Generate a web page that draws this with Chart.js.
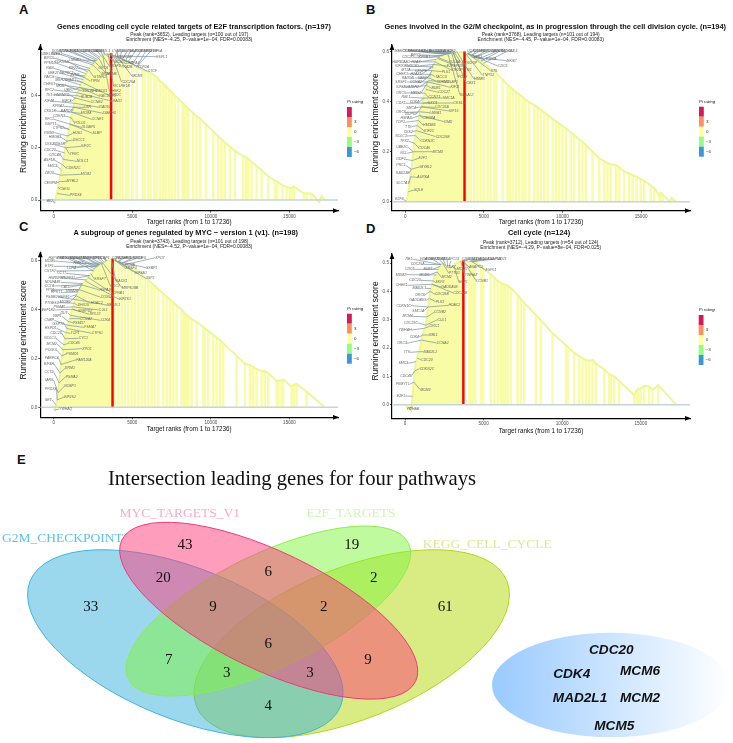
<!DOCTYPE html>
<html><head><meta charset="utf-8">
<script src="https://cdn.jsdelivr.net/npm/chart.js@4"></script>
<style>
html,body{margin:0;padding:0;background:#fff;width:733px;height:743px;overflow:hidden}
canvas{position:absolute;display:block}
.tag{position:absolute;font:bold 13px/13px "Liberation Sans",Arial,sans-serif;color:#111}
</style></head><body>
<div class="tag" style="left:19px;top:3px">A</div>
<div class="tag" style="left:366px;top:3px">B</div>
<div class="tag" style="left:19px;top:220px">C</div>
<div class="tag" style="left:366px;top:222px">D</div>
<div class="tag" style="left:17px;top:453px">E</div>
<canvas id="a" style="left:0;top:0"></canvas>
<canvas id="b" style="left:366px;top:0"></canvas>
<canvas id="c" style="left:0;top:225px"></canvas>
<canvas id="d" style="left:366px;top:225px"></canvas>
<canvas id="e" style="left:0;top:450px"></canvas>
<script>
/* ---------- values ---------- */
const xTicks=[0,5000,10000,15000];
const yTicksABC=[0,0.2,0.4,0.6];
const yTicksD=[0,0.1,0.2,0.3,0.4,0.5];
const legendTicks=["","3","0","−3","−6"];
const legendColours=["#D6195F","#FF8F5C","#FFFF9E","#93FF82","#3B97DA"];

const ranksA=[60,130,210,290,350,430,490,560,620,700,
760,840,900,980,1040,1110,1180,1250,1310,1390,
1450,1520,1590,1660,1720,1800,1870,1950,2010,2090,
2160,2240,2310,2400,2470,2560,2630,2720,2790,2880,
2950,3040,3120,3210,3290,3380,3460,3560,3652,
3900,4047,4217,4386,4598,4747,5001,5276,5658,5806,
6018,6166,6399,6548,6760,6971,7120,7332,7501,7713,
7925,8200,8306,8455,8561,8879,9090,9302,9684,10150,
10468,10680,10892,11209,11527,12057,12227,12375,12587,12905,
13223,13646,14070,14219,14558,14812,15024,15193,15278,15914,
16084,16401,16888,17036,17236];
const scoresA=[-.012,.005,.025,.05,.07,.095,.115,.135,.155,.18,
.2,.225,.245,.27,.29,.315,.335,.355,.37,.39,
.4,.41,.42,.43,.44,.45,.46,.468,.475,.482,
.49,.497,.503,.51,.517,.522,.528,.533,.537,.541,
.545,.549,.552,.555,.557,.558,.559,.56,.56,
.55,.548,.543,.54,.535,.53,.52,.508,.497,.494,
.49,.486,.478,.47,.455,.445,.437,.423,.413,.40,
.388,.372,.365,.356,.35,.332,.32,.312,.29,.262,
.245,.232,.22,.205,.188,.168,.165,.158,.146,.13,
.115,.09,.074,.07,.056,.05,.045,.048,.052,.025,
.026,.025,-.008,.015,0];

const ranksB=[50,120,190,260,330,390,450,510,570,640,
700,770,840,900,970,1040,1100,1170,1240,1300,
1370,1430,1500,1570,1640,1700,1770,1830,1900,1970,
2040,2110,2200,2280,2370,2450,2540,2620,2710,2790,
2880,2960,3050,3130,3220,3300,3390,3470,3560,3650,
3768,3963,4174,4386,4598,4810,4980,5234,5446,5658,
5806,6187,6505,6654,6823,7035,7247,7459,7628,7882,
8200,8412,8624,8836,9048,9366,9578,9790,10001,10213,
10531,10743,11061,11273,11485,11909,12332,12650,12862,13074,
13392,13604,13922,14240,14452,14706,14981,15193,15617,15829,
16147,16253,16359,16825,16952,17206];
const scoresB=[.002,.015,.04,.07,.10,.13,.165,.20,.235,.265,
.285,.305,.325,.345,.36,.38,.395,.415,.435,.45,
.465,.48,.485,.495,.51,.525,.54,.55,.56,.57,
.574,.577,.58,.582,.585,.587,.589,.59,.592,.593,
.594,.595,.596,.597,.597,.598,.598,.599,.599,.6,
.6,.593,.585,.578,.57,.563,.555,.543,.532,.525,
.515,.49,.467,.46,.452,.44,.43,.42,.41,.398,
.388,.378,.368,.358,.348,.333,.323,.313,.304,.294,
.278,.267,.25,.24,.227,.2,.174,.163,.155,.15,
.147,.139,.12,.113,.107,.1,.09,.083,.065,.055,
.027,.036,.03,0,.017,0];

const ranksC=[40,90,150,220,290,350,410,470,530,590,
650,710,770,830,890,950,1010,1070,1130,1190,
1250,1310,1370,1430,1490,1560,1630,1700,1780,1860,
1940,2020,2100,2190,2280,2360,2450,2530,2620,2700,
2790,2870,2950,3040,3130,3220,3310,3400,3490,3580,
3660,3743,3899,4111,4322,4535,4747,4958,5170,5382,
5594,5806,6018,6230,6442,6654,6971,7183,7395,7607,
7819,8137,8285,8412,8561,8773,9090,9514,9620,9832,
10150,10362,10574,10786,11633,12163,12481,12693,12905,13223,
13435,13646,14176,14282,14494,14600,15130,15278,15448,16084,
17186];
const scoresC=[-.012,-.01,.01,.03,.06,.10,.14,.175,.21,.235,
.255,.28,.305,.322,.335,.35,.362,.375,.39,.40,
.41,.425,.44,.455,.46,.47,.48,.49,.50,.505,
.51,.515,.52,.53,.537,.545,.552,.558,.565,.57,
.575,.58,.582,.586,.589,.592,.595,.598,.6,.602,
.604,.605,.6,.595,.588,.582,.577,.57,.562,.555,
.545,.532,.52,.507,.495,.482,.465,.452,.44,.428,
.415,.398,.388,.38,.372,.36,.348,.329,.323,.312,
.296,.285,.275,.262,.21,.178,.173,.165,.157,.148,
.147,.14,.107,.108,.11,.114,.084,.092,.095,.064,
.003];

const ranksD=[60,220,381,490,560,630,699,770,840,911,
980,1050,1123,1190,1260,1335,1400,1470,1540,1600,
1653,1720,1790,1860,1930,1971,2050,2130,2220,2300,
2394,2480,2590,2712,2800,2880,2960,3030,3110,3200,
3280,3360,3450,3540,3712,4090,4170,4250,4330,4410,
4470,4831,4980,5467,5679,5891,6103,6251,6378,6526,
6738,7162,7374,7586,8328,8646,9387,10235,10341,10765,
11082,11294,11506,11718,11930,12142,12672,12990,13095,13307,
13625,14579,14727,14854,15003,15215,15532,15744,16104,17227];
const scoresD=[-.001,-.012,-.022,.03,.08,.12,.152,.165,.178,.187,
.205,.228,.246,.258,.27,.281,.31,.345,.375,.40,
.41,.425,.437,.447,.455,.458,.468,.478,.488,.494,
.499,.495,.49,.487,.488,.487,.486,.487,.492,.497,
.50,.503,.505,.507,.508,.505,.505,.505,.505,.505,
.505,.49,.48,.46,.448,.437,.43,.426,.424,.42,
.412,.388,.372,.36,.316,.298,.252,.21,.205,.183,
.172,.164,.158,.155,.158,.145,.125,.108,.105,.10,
.084,.034,.05,.056,.058,.067,.064,.052,.069,.002];

const peakRanks=[3652,3768,3743,3712];
const peakScores=[.56,.6,.605,.508];

const genesA=["DONSON","BRCA2","NOP56","SPC25","RAD51C","TUBB","CDC25B","POLA2","MXD3","NAP1L1",
"LYAR","UNG","SMC6","PLK4","AURKB","CDCA3","PRIM2","POLD3","PHF5A","TIMELESS",
"WEE1","BIRC5","CDKN1A","PPM1D","LMNB1","RAN","KIF22","UBE2T","DEPDC1","EZH2",
"PAICS","MSH2","DNMT1","CHEK1","MKI67","RFC2","UBR7","TK1","HNRNPD","KIF4A",
"SMC4","KPNA2","CKS1B","BARD1","CDKN3","RFC1","GSPT1","CTPS1","RRM2","HMGB3",
"CKS2","PDS5B","CDC20","CDCA8","ASF1B","SMC3","ZW10","CENPM","CSE1L","AK2",
"ESPL1","TOP2A","RPA3","CTCF","MCM5","CDC25A","DCLRE1B","CHEK2","TRA2B","PSMC3IP",
"TFRC","NOLC1","CDKN2C","MCM2","MYBL2","PRDX4","KIF2C","DSCC1","HUS1","SLBP",
"DLGAP5","POLD1","CCNE1","MCM4","DIAPH3","LBR","RAD50","CCNB2","RAD1","RACGAP1",
"BUB1B","PRKDC","RAD21","SUV39H1","MCM3","MCM6","STMN1","TIPIN","ORC6","SRSF2",
"MCM7","CDK1"];
const geneRanksA=[2600,2630,2720,2790,2880,2950,3040,3120,3210,3290,
3900,4047,4217,4386,4598,4747,5001,5276,5276,2470,
2560,2310,2160,2090,2720,1950,2240,1870,1950,2010,
1800,1720,1800,1660,1590,1520,1660,1450,1390,1310,
1390,1250,1180,1250,1110,1040,980,980,900,840,
760,820,700,620,560,490,430,350,290,60,
3900,4047,3900,4217,4047,3652,3460,3120,3652,3380,
790,620,560,430,350,210,760,840,900,1040,
1040,1110,1180,1180,1250,1250,1310,1390,1520,1660,
1450,1800,1660,1590,2470,2630,2240,1950,2880,3120,
3290,3560];

const genesB=["MARCKS","CCNF","KIF5B","NOTCH2","EGF","CDC7","LBR","SLC7A5","NUP98","SAP30",
"E2F2","UCK2","BUB3","TMPO","FANCC","TROAP","RAD21","ATF5","KATNA1","CUL5",
"BIRC5","CDC20","KPNB1","HSP90AA1","H2AX","KIF20B","NDC80","MT2A","CENPF","CHEK1",
"H2AZ1","RAD54L","NASP","SRSF1","CCNA2","KIF4A","HMGN2","ORC5","MEIS2","RBL1",
"CDK1","CDK4","SMC4","ORC6","NUP50","HSPA8","TOP1","TTK","CKS2","NOLC1",
"TPX2","UBE2C","NCL","ODF2","PRC1","RAD23B","SLC7A1","E2F3","SQLE","AURKA",
"MYBL2","E2F1","MCM3","CDC45","CDKN2C","CDC25B","KIF2C","HMGB3","DMD","CENPA",
"LMNB1","CDC25A","EXO1","KIF15","SMC1A","CCNT1","CDC27","BUB1","KIF11","NUSAP1",
"CDKN3","TACC3","PLK1","E2F4","KIF23","PRIM2","CUL4A","CKS1B","RASAL2","CBX1",
"HMMR","TNPO2","STIL","CDC6","TOP2A","MKI67","NEK2","POLE","PTTG1","SYNCRIP"];
const geneRanksB=[2620,2620,2710,2790,2880,2880,2960,3050,3130,3220,
3300,3963,3963,4174,4174,4386,4386,4598,4810,4980,
2370,2200,2450,1900,1970,1770,1830,1700,1830,1640,
1770,1570,1700,1430,1640,1370,1500,1240,1430,1170,
1100,1170,1040,970,1040,890,830,760,700,620,
580,540,500,450,420,370,300,50,190,330,
420,450,510,570,640,700,770,840,900,900,
970,1040,1100,1040,1170,1240,1300,1370,1430,1500,
1570,1640,1700,1830,1900,2040,2110,1100,2710,3050,
3300,3768,4174,3963,3963,4386,3963,2960,3050,3130];
const spotsB=[[108,152],[124,152],[140,152],[155,152],[168,152],[180,152],[193,152],[208,152],[224,152],[240,152],
[256,152],[318,152],[333,152],[347,152],[362,152],[378,152],[394,152],[408,152],[424,152],[441,152],
[150,165],[125,172],[175,172],[105,185],[150,185],[105,198],[140,198],[120,210],[165,212],[108,222],
[150,222],[127,234],[170,234],[105,246],[150,246],[105,262],[140,262],[105,279],[150,279],[120,292],
[105,310],[145,307],[135,323],[105,337],[135,341],[120,355],[103,367],[127,380],[127,395],[105,408],
[115,424],[108,441],[113,460],[105,478],[105,496],[110,518],[110,550],[100,598],[158,570],[172,532],
[180,500],[170,475],[215,455],[175,443],[185,422],[230,410],[190,393],[190,375],[247,365],[190,355],
[208,338],[228,322],[200,308],[263,333],[248,294],[205,292],[235,277],[210,265],[267,262],[255,245],
[230,245],[225,230],[240,215],[255,198],[270,210],[285,197],[265,185],[280,309],[302,284],[315,250],
[340,237],[367,226],[385,212],[410,198],[375,178],[437,182],[335,172],[290,232],[300,210],[310,190]];
const spotsA=[[178,152],[195,152],[211,152],[226,152],[242,152],[256,152],[270,152],[284,152],[297,152],[311,152],
[350,152],[365,152],[380,152],[395,152],[410,152],[425,152],[440,152],[455,152],[470,152],[147,161],
[172,161],[147,174],[185,186],[150,189],[225,180],[150,205],[220,205],[160,218],[200,218],[225,226],
[148,230],[180,240],[212,240],[148,251],[183,257],[148,270],[207,270],[148,285],[185,285],[148,304],
[200,304],[175,319],[150,333],[200,333],[177,348],[148,358],[152,373],[175,385],[148,398],[165,412],
[148,433],[177,431],[150,451],[165,466],[148,481],[157,498],[148,520],[152,548],[195,567],[150,603],
[485,170],[430,200],[405,188],[457,214],[412,229],[385,245],[365,258],[345,272],[380,200],[375,170],
[223,463],[248,484],[220,504],[258,523],[217,544],[227,586],[258,439],[236,420],[232,400],[291,400],
[265,382],[240,368],[293,358],[258,340],[328,340],[263,322],[315,322],[290,306],[352,304],[323,288],
[260,290],[345,286],[305,272],[270,272],[320,221],[335,221],[300,232],[285,243],[310,205],[345,198],
[358,185],[385,190]];

const genesC=["HSP90AB1","PRDX3","RUVBL2","SRM","RANBP1","LSM2","TYMS","SNRPD3","PWP1","PPM1G",
"PCBP1","CDK2","PA2G4","NPM1","HNRNPC","RFC4","DEK","XPOT","MCM5","ETF1",
"CSTF2","LDHA","NME1","CCT7","HNRNPA1","PRPF31","NDUFAB1","CCT4","PPIA","CAD",
"HPRT1","TRIM28","PSMB2","HSPE1","PTGES3","MCM6","EEF1B2","PSMA6","DUT","VBP1",
"CNBP","GSPT1","HSPD1","CDC20","NOLC1","MCM2","POLE3","PABPC4","EIF4H","CCT2",
"IARS","PRDX4","SET","YWHAQ","EIF2S2","NCBP1","PSMA2","RRM1","FAM120A","PSMD1",
"XPO1","CDC45","CYC1","TCP1","CTPS1","PSMA7","PSMD7","CCNA2","CDK4","RPL22",
"SNRPD2","CUL1","DHX15","MAD2L1","HDAC2","EIF2S1","COX5A","KPNB1","HSPA9","MRPS18B",
"RACK1","ODC1","SRSF7","USP1","EIF4A1","SSBP1","SRSF3","PCNA"];
const geneRanksC=[2530,2620,2700,2790,2870,2950,3040,3130,3220,3310,
3400,3899,3899,4111,4111,4322,4322,4535,2950,2790,
2530,2870,3130,2280,2100,2280,1860,1780,1630,1780,
1560,1780,1370,1490,1310,1430,1190,1250,1070,950,
890,830,770,710,650,590,530,470,410,350,
290,220,150,40,220,290,350,410,470,530,
590,650,710,770,830,890,950,1010,1070,1190,
1190,1250,1310,1370,1430,2020,1630,2190,1780,3130,
3660,3040,2360,4111,3899,4111,3899,3743];
const spotsC=[[172,98],[190,98],[206,98],[220,98],[232,98],[244,98],[256,98],[270,98],[284,98],[298,98],
[312,98],[350,98],[365,98],[380,98],[397,98],[413,98],[428,98],[480,98],[150,108],[148,124],
[150,138],[215,128],[235,115],[185,145],[170,160],[205,160],[158,172],[148,183],[150,194],[195,187],
[170,202],[215,198],[155,216],[192,215],[155,233],[195,230],[145,255],[178,247],[192,263],[172,274],
[148,286],[175,296],[152,310],[168,324],[150,340],[155,356],[153,375],[155,398],[147,417],[147,440],
[148,465],[152,492],[145,524],[197,552],[210,516],[210,484],[215,455],[210,430],[252,404],[217,386],
[261,371],[222,355],[250,340],[225,325],[292,325],[270,307],[237,293],[258,281],[316,286],[285,268],
[255,257],[310,255],[250,241],[340,240],[290,235],[375,223],[320,217],[355,205],[315,195],[390,188],
[365,168],[345,182],[300,162],[450,160],[423,143],[455,128],[393,130],[390,120]];

const genesD=["RB1","HDAC1","ANAPC7","SMAD4","FZR1","ANAPC13","CDC26","BUB3","WEE1","ANAPC5",
"ANAPC4","RAD21","CDC25A","CDC6","BUB1","MDM2","MCM6","CDC23","CHEK1","MAD2L1",
"ORC6","GADD45G","CDKN1C","SMC1A","MCM4","CDC25C","YWHAH","CDK4","ORC3","TTK",
"SMC3","CDC45","PKMYT1","E2F1","YWHAB","MCM3","CDKN2C","CDC20","MAD2L2","CCNA2",
"RBL1","ORC1","CUL1","CCNB2","HDAC2","PLK1","CDC25B","CDC14B","GADD45B","SKP2",
"MCM2","PTTG1","SKP1","MCM5","YWHAZ","CCNB1","ESPL1","ANAPC1","CDK7"];
const geneRanksD=[2300,2300,2480,2590,2712,2800,3712,3712,4090,4170,
4250,4330,2300,2130,2220,1971,2050,1790,1720,1653,
1600,1530,1470,1440,1410,1350,1260,1100,1020,911,
690,620,580,490,220,560,660,770,911,1050,
1123,1260,1335,1400,1470,1540,1600,1720,1720,1790,
2050,2394,3110,3030,3540,3712,4250,3712,2960];
const spotsD=[[129,102],[180,102],[197,102],[213,102],[230,102],[255,102],[305,102],[320,102],[340,102],[360,102],
[385,102],[405,102],[155,118],[131,133],[186,133],[105,149],[175,149],[147,166],[107,181],[160,190],
[162,210],[155,226],[113,242],[157,257],[125,274],[135,294],[117,315],[145,336],[108,355],[123,382],
[112,415],[120,452],[110,478],[105,513],[140,551],[178,494],[183,431],[183,405],[193,380],[230,354],
[202,330],[205,304],[228,284],[222,262],[265,241],[222,230],[228,208],[283,204],[250,186],[222,172],
[242,157],[265,144],[292,172],[288,133],[315,150],[348,167],[375,135],[330,126],[255,125]];

const titles=["Genes encoding cell cycle related targets of E2F transcription factors. (n=197)",
"Genes involved in the G2/M checkpoint, as in progression through the cell division cycle. (n=194)",
"A subgroup of genes regulated by MYC − version 1 (v1). (n=198)",
"Cell cycle (n=124)"];
const subtitles=[["Peak (rank=3652), Leading targets (n=100 out of 197)","Enrichment (NES=−4.25, P−value=1e−04, FDR=0.00083)"],
["Peak (rank=3768), Leading targets (n=101 out of 194)","Enrichment (NES=−4.45, P−value=1e−04, FDR=0.00083)"],
["Peak (rank=3743), Leading targets (n=101 out of 198)","Enrichment (NES=−4.52, P−value=1e−04, FDR=0.00083)"],
["Peak (rank=3712), Leading targets (n=54 out of 124)","Enrichment (NES=−4.29, P−value=8e−04, FDR=0.025)"]];

const vennTitle="Intersection leading genes for four pathways";
const vennSets=["G2M_CHECKPOINT","MYC_TARGETS_V1","E2F_TARGETS","KEGG_CELL_CYCLE"];
const vennCounts=[33,43,19,61,20,6,2,9,2,6,7,9,3,3,4];
const sharedGenes=["CDC20","CDK4","MCM6","MAD2L1","MCM2","MCM5"];

/* ---------- layout (pixels inside each canvas) ---------- */
const SANS='"Liberation Sans",Arial,sans-serif', SERIF='"Liberation Serif","Times New Roman",serif';
const cropScale=3;
const frames=[
 {id:'a',w:366,h:226,left:40.3,right:338,top:45,bottom:210.7,x0:53.7,y0:200,yUnit:261.5,titleX:194,titleY:26.7,subX:189.3,subY:[35,40],yTitleX:24,yTitleY:123.3,legX:347,legY:107},
 {id:'b',w:367,h:226,left:26,right:324,top:45,bottom:210.7,x0:39.3,y0:201.7,yUnit:249.6,titleX:189.3,titleY:26.7,subX:174.7,subY:[35,40],yTitleX:10,yTitleY:123,legX:333,legY:106.7},
 {id:'c',w:366,h:208,left:40.3,right:338,top:27.3,bottom:192.3,x0:53.7,y0:182.3,yUnit:245,titleX:185.7,titleY:8.3,subX:189.3,subY:[16.7,21.7],yTitleX:24,yTitleY:105,legX:347,legY:88.7},
 {id:'d',w:367,h:210,left:26,right:324,top:29,bottom:193.3,x0:39,y0:179.7,yUnit:283.3,titleX:173,titleY:8.3,subX:174.7,subY:[17.7,23],yTitleX:10,yTitleY:106,legX:332.7,legY:90}
];
const xPerRank=15.72/1000;
/* painted in this order: KEGG, G2M, E2F, MYC */
const vennShapes=[
 {cx:351.7,cy:193.7,a:167.4,b:75.5,deg:-22,fill:'rgba(180,218,10,.5)',line:'#B4D414'},
 {cx:185.3,cy:193.7,a:167.4,b:75.5,deg:22,fill:'rgba(56,178,220,.5)',line:'#3FB4DC'},
 {cx:268.3,cy:161,a:155.7,b:57,deg:-25.8,fill:'rgba(128,245,64,.5)',line:'#8CEB4E'},
 {cx:268.7,cy:160.7,a:163,b:59,deg:25.7,fill:'rgba(255,60,122,.5)',line:'#EE3A78'}
];
const vennSetSpots=[[2,88,'#5CC4E4'],[119.5,63,'#FFA9C6'],[306.5,63,'#CBF7B4'],[422.7,94.7,'#DDEA90']];
const vennCountSpots=[[272,472],[555,285],[1055,285],[1336,472],[490,384],[805,365],[1121,384],[639,472],[971,472],[805,582],[506,631],[1104,630],[680,670],[930,670],[805,768]];
const sharedBlob={cx:611,cy:235,rx:119,ry:52.3};
const sharedSpots=[[611.3,200],[571.7,224.7],[640,221.3],[580,248.3],[640,248.7],[614.3,276.3]];

function text(ctx,s,x,y,font,colour,align){
  ctx.font=font;ctx.fillStyle=colour;ctx.textAlign=align||'center';ctx.textBaseline='middle';ctx.fillText(s,x,y);
}

function gseaPanel(i,ranks,scores,yTicks,genes,geneRanks,spots){
  const f=frames[i], cv=document.getElementById(f.id);
  cv.width=f.w;cv.height=f.h;cv.style.width=f.w+'px';cv.style.height=f.h+'px';
  const xMin=(f.left-f.x0)/xPerRank, xMax=(f.right-f.x0)/xPerRank;
  const yMin=(f.y0-f.bottom)/f.yUnit, yMax=(f.y0-f.top)/f.yUnit;
  const hits=ranks.map((r,k)=>({x:r,y:scores[k]}));
  const decor={id:'decor',
    afterDatasetsDraw(ch){
      const c=ch.ctx,xs=ch.scales.x,ys=ch.scales.y;
      c.save();
      c.strokeStyle='#8298A6';c.lineWidth=.75;
      c.font='italic 3.5px '+SANS;
      genes.forEach((g,k)=>{
        const lx=spots[k][0]/cropScale, ly=spots[k][1]/cropScale;
        let best=0;ranks.forEach((r,m)=>{if(Math.abs(r-geneRanks[k])<Math.abs(ranks[best]-geneRanks[k]))best=m;});
        const px=xs.getPixelForValue(ranks[best]), py=ys.getPixelForValue(scores[best]);
        const half=c.measureText(g).width/2;
        const sx=px>lx+half?lx+half:(px<lx-half?lx-half:lx);
        const sy=(sx===lx)?(py<ly?ly-1.6:ly+1.6):ly;
        c.beginPath();c.moveTo(sx,sy);c.lineTo(px,py);c.stroke();
      });
      genes.forEach((g,k)=>text(c,g,spots[k][0]/cropScale,spots[k][1]/cropScale,'italic 3.5px '+SANS,'#666666'));
      c.restore();
    },
    afterDraw(ch){
      const c=ch.ctx,a=ch.chartArea;
      c.save();
      c.fillStyle='#000';
      c.beginPath();c.moveTo(a.left,a.top-1);c.lineTo(a.left-2.4,a.top+5);c.lineTo(a.left+2.4,a.top+5);c.closePath();c.fill();
      c.beginPath();c.moveTo(a.right+1,a.bottom);c.lineTo(a.right-5,a.bottom-2.4);c.lineTo(a.right-5,a.bottom+2.4);c.closePath();c.fill();
      text(c,titles[i],f.titleX,f.titleY,'bold 7.4px '+SANS,'#111');
      subtitles[i].forEach((s,k)=>text(c,s,f.subX,f.subY[k],'4.95px '+SANS,'#222'));
      c.translate(f.yTitleX,f.yTitleY);c.rotate(-Math.PI/2);
      text(c,'Running enrichment score',0,0,'8.5px '+SANS,'#111');
      c.setTransform(1,0,0,1,0,0);
      text(c,'Pi rating',f.legX,f.legY-5,'italic 4.4px '+SANS,'#222','left');
      legendColours.forEach((col,k)=>{
        c.fillStyle=col;c.fillRect(f.legX,f.legY+k*10,4.8,10);
        if(legendTicks[k])text(c,legendTicks[k],f.legX+7,f.legY+k*10+5,'4.4px '+SANS,'#333','left');
      });
      c.restore();
    }};
  return new Chart(cv,{type:'bar',
    data:{datasets:[
      {type:'line',data:[{x:xMin,y:0},{x:xMax,y:0}],borderColor:'#C6D4D8',borderWidth:1.6,pointRadius:0,order:1},
      {type:'bar',data:[{x:peakRanks[i],y:peakScores[i]}],backgroundColor:'#FF0000',barThickness:1.8,grouped:false,order:2},
      {type:'line',data:hits,borderColor:'#EFF59A',borderWidth:2,pointRadius:0,tension:0,order:3},
      {type:'bar',data:hits,backgroundColor:'#F9FCA6',barThickness:1.8,grouped:false,order:4}
    ]},
    options:{responsive:false,animation:false,devicePixelRatio:1,
      layout:{autoPadding:false,padding:{left:0,top:f.top,right:f.w-f.right,bottom:0}},
      plugins:{legend:{display:false},tooltip:{enabled:false}},
      scales:{
        x:{type:'linear',min:xMin,max:xMax,offset:false,
          afterFit(s){s.height=f.h-f.bottom;},
          afterBuildTicks(s){s.ticks=xTicks.map(v=>({value:v}));},
          grid:{drawOnChartArea:false,offset:false,tickLength:2,color:'#555'},
          border:{display:true,color:'#000',width:1.2},
          ticks:{font:{size:4.6,family:SANS},color:'#4D4D4D',padding:.8,maxRotation:0,callback:v=>String(v)},
          title:{display:true,text:'Target ranks (from 1 to 17236)',font:{size:6.3,family:SANS},color:'#111',padding:{top:0,bottom:0}}},
        y:{type:'linear',min:yMin,max:yMax,
          afterFit(s){s.width=f.left;},
          afterBuildTicks(s){s.ticks=yTicks.filter(v=>v<=yMax).map(v=>({value:v}));},
          grid:{drawOnChartArea:false,tickLength:2,color:'#555'},
          border:{display:true,color:'#000',width:1.2},
          ticks:{font:{size:4.6,family:SANS},color:'#4D4D4D',padding:1,callback:v=>Number(v).toFixed(1)}}
      }},
    plugins:[decor]});
}

gseaPanel(0,ranksA,scoresA,yTicksABC,genesA,geneRanksA,spotsA);
gseaPanel(1,ranksB,scoresB,yTicksABC,genesB,geneRanksB,spotsB);
gseaPanel(2,ranksC,scoresC,yTicksABC,genesC,geneRanksC,spotsC);
gseaPanel(3,ranksD,scoresD,yTicksD,genesD,geneRanksD,spotsD);

/* ---------- Venn panel ---------- */
(function(){
  const cv=document.getElementById('e');cv.width=733;cv.height=293;cv.style.width='733px';cv.style.height='293px';
  const countPts=vennCountSpots.map(p=>({x:p[0]/cropScale,y:p[1]/cropScale}));
  const genePts=sharedSpots.map(p=>({x:p[0],y:p[1]}));
  new Chart(cv,{type:'scatter',
    data:{datasets:[{data:countPts,pointRadius:0},{data:genePts,pointRadius:0}]},
    options:{responsive:false,animation:false,devicePixelRatio:1,layout:{padding:0,autoPadding:false},
      plugins:{legend:{display:false},tooltip:{enabled:false}},
      scales:{x:{type:'linear',min:0,max:733,display:false},y:{type:'linear',min:0,max:293,reverse:true,display:false}}},
    plugins:[{id:'venn',
      beforeDatasetsDraw(ch){
        const c=ch.ctx,xs=ch.scales.x,ys=ch.scales.y;
        c.save();
        vennShapes.forEach(e=>{
          c.beginPath();
          c.ellipse(xs.getPixelForValue(e.cx),ys.getPixelForValue(e.cy),e.a,e.b,e.deg*Math.PI/180,0,Math.PI*2);
          c.fillStyle=e.fill;c.fill();c.strokeStyle=e.line;c.lineWidth=1;c.stroke();
        });
        const bx=xs.getPixelForValue(sharedBlob.cx),by=ys.getPixelForValue(sharedBlob.cy);
        const g=c.createLinearGradient(bx-sharedBlob.rx,0,bx+sharedBlob.rx,0);
        g.addColorStop(0,'#99CAFF');g.addColorStop(1,'#FFFFFF');
        c.beginPath();c.ellipse(bx,by,sharedBlob.rx,sharedBlob.ry,0,0,Math.PI*2);c.fillStyle=g;c.fill();
        c.restore();
      },
      afterDraw(ch){
        const c=ch.ctx,xs=ch.scales.x,ys=ch.scales.y;
        c.save();
        text(c,vennTitle,292,30,'20.7px '+SERIF,'#111');
        vennSets.forEach((s,k)=>text(c,s,vennSetSpots[k][0],vennSetSpots[k][1],'13.5px '+SERIF,vennSetSpots[k][2],'left'));
        vennCounts.forEach((n,k)=>text(c,String(n),xs.getPixelForValue(countPts[k].x),ys.getPixelForValue(countPts[k].y),'15px '+SERIF,'#111'));
        sharedGenes.forEach((s,k)=>text(c,s,xs.getPixelForValue(genePts[k].x),ys.getPixelForValue(genePts[k].y),'italic bold 13.6px '+SANS,'#111'));
        c.restore();
      }}]});
})();
</script>
</body></html>
